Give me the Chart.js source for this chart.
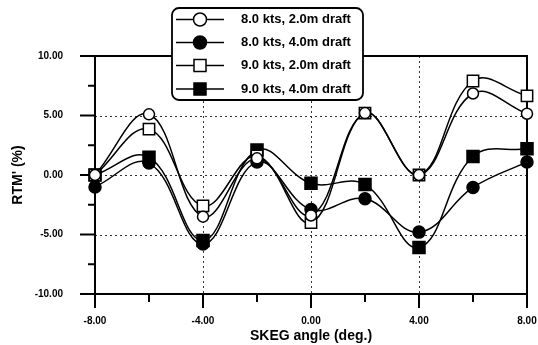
<!DOCTYPE html>
<html>
<head>
<meta charset="utf-8">
<script src="https://cdn.jsdelivr.net/npm/chart.js@4/dist/chart.umd.min.js"></script>
<style>
html,body{margin:0;padding:0;background:#fff;}
#c{display:block;}
</style>
</head>
<body>
<canvas id="c" width="538" height="345"></canvas>
<script>
// ---- data ----
const angles = [-8, -6, -4, -2, 0, 2, 4, 6, 8];
const s8kts2m = [0, 5.1, -3.5, 1.4, -3.4, 5.2, 0, 6.85, 5.15];
const s8kts4m = [-1.0, 1.0, -5.8, 1.1, -2.9, -2.0, -4.8, -1.05, 1.1];
const s9kts2m = [0, 3.85, -2.6, 1.6, -4.0, 5.2, 0, 7.9, 6.65];
const s9kts4m = [0, 1.5, -5.5, 2.1, -0.7, -0.8, -6.1, 1.55, 2.2];
const seriesLabels = ['8.0 kts, 2.0m draft', '8.0 kts, 4.0m draft', '9.0 kts, 2.0m draft', '9.0 kts, 4.0m draft'];
const xTitle = 'SKEG angle (deg.)';
const yTitle = "RTM' (%)";
const xMajorTicks = [-8, -4, 0, 4, 8];
const xMinorTicks = [-6, -2, 2, 6];
const yMajorTicks = [-10, -5, 0, 5, 10];
const yMinorTicks = [-7.5, -2.5, 2.5, 7.5];
const xGrid = [-4, 0, 4];
const yGrid = [-5, 0, 5];

const styles = [
  {pointStyle: 'circle', fill: '#fff', r: 5.5},
  {pointStyle: 'circle', fill: '#000', r: 6},
  {pointStyle: 'rect', fill: '#fff', r: 8},
  {pointStyle: 'rect', fill: '#000', r: 8.5}
];
const allSeries = [s8kts2m, s8kts4m, s9kts2m, s9kts4m];

const datasets = allSeries.map((s, i) => ({
  label: seriesLabels[i],
  data: angles.map((a, j) => ({x: a, y: s[j]})),
  borderColor: '#000',
  borderWidth: 1.5,
  backgroundColor: styles[i].fill,
  pointStyle: styles[i].pointStyle,
  pointRadius: styles[i].r,
  pointBorderWidth: 1.5,
  pointBorderColor: '#000',
  pointBackgroundColor: styles[i].fill,
  tension: 0.4,
  fill: false,
  clip: false
}));

const framePlugin = {
  id: 'frame',
  beforeDatasetsDraw(chart) {
    const ctx = chart.ctx, a = chart.chartArea;
    const xs = chart.scales.x, ys = chart.scales.y;
    ctx.save();
    // dotted grid
    ctx.strokeStyle = '#333';
    ctx.lineWidth = 1;
    ctx.setLineDash([2, 3]);
    xGrid.forEach(v => {
      const px = Math.round(xs.getPixelForValue(v)) + 0.5;
      ctx.beginPath(); ctx.moveTo(px, a.top); ctx.lineTo(px, a.bottom); ctx.stroke();
    });
    yGrid.forEach(v => {
      const py = Math.round(ys.getPixelForValue(v)) + 0.5;
      ctx.beginPath(); ctx.moveTo(a.left, py); ctx.lineTo(a.right, py); ctx.stroke();
    });
    ctx.setLineDash([]);
    // frame
    ctx.strokeStyle = '#000';
    ctx.lineWidth = 2;
    ctx.strokeRect(a.left, a.top, a.right - a.left, a.bottom - a.top);
    // ticks
    ctx.lineWidth = 2;
    yMajorTicks.forEach(v => {
      const py = ys.getPixelForValue(v);
      ctx.beginPath(); ctx.moveTo(a.left - 15, py); ctx.lineTo(a.left, py); ctx.stroke();
    });
    yMinorTicks.forEach(v => {
      const py = ys.getPixelForValue(v);
      ctx.beginPath(); ctx.moveTo(a.left - 7, py); ctx.lineTo(a.left, py); ctx.stroke();
    });
    xMajorTicks.forEach(v => {
      const px = xs.getPixelForValue(v);
      ctx.beginPath(); ctx.moveTo(px, a.bottom); ctx.lineTo(px, a.bottom + 14); ctx.stroke();
    });
    xMinorTicks.forEach(v => {
      const px = xs.getPixelForValue(v);
      ctx.beginPath(); ctx.moveTo(px, a.bottom); ctx.lineTo(px, a.bottom + 8); ctx.stroke();
    });
    ctx.restore();
  },
  afterDraw(chart) {
    const ctx = chart.ctx;
    ctx.save();
    // legend box
    const bx = 172, by = 8, bw = 191, bh = 92, rr = 7;
    ctx.fillStyle = '#fff';
    ctx.strokeStyle = '#000';
    ctx.lineWidth = 1.8;
    ctx.beginPath();
    ctx.roundRect(bx, by, bw, bh, rr);
    ctx.fill();
    ctx.stroke();
    const rowsY = [19.5, 42.5, 65.5, 89];
    chart.data.datasets.forEach((ds, i) => {
      const y = rowsY[i];
      ctx.strokeStyle = '#000';
      ctx.lineWidth = 1.5;
      ctx.beginPath(); ctx.moveTo(176, y); ctx.lineTo(224, y); ctx.stroke();
      ctx.fillStyle = ds.pointBackgroundColor;
      ctx.beginPath();
      if (ds.pointStyle === 'circle') {
        ctx.arc(200, y, 6.5, 0, Math.PI * 2);
      } else {
        ctx.rect(194, y - 6, 12, 12);
      }
      ctx.fill();
      ctx.stroke();
      ctx.fillStyle = '#000';
      ctx.font = 'bold 13px "Liberation Sans", Arial, sans-serif';
      ctx.textBaseline = 'middle';
      ctx.textAlign = 'left';
      ctx.fillText(ds.label, 241, y);
    });
    ctx.restore();
  }
};

new Chart(document.getElementById('c'), {
  type: 'line',
  data: {datasets},
  options: {
    responsive: false,
    animation: false,
    devicePixelRatio: 1,
    layout: {padding: {top: 56, right: 11, left: 0, bottom: 0}},
    plugins: {legend: {display: false}, tooltip: {enabled: false}},
    scales: {
      x: {
        type: 'linear', min: -8, max: 8,
        afterBuildTicks(scale) { scale.ticks = xMajorTicks.map(v => ({value: v})); },
        afterFit(scale) { scale.height = 51; scale.paddingLeft = 0; scale.paddingRight = 0; },
        grid: {display: false, drawTicks: false},
        border: {display: false},
        ticks: {
          color: '#000', padding: 21,
          font: {family: '"Liberation Sans", Arial, sans-serif', size: 10, weight: 'bold'},
          callback: v => Number(v).toFixed(2),
          maxRotation: 0
        },
        title: {
          display: true, text: xTitle, color: '#000',
          font: {family: '"Liberation Sans", Arial, sans-serif', size: 14, weight: 'bold'},
          padding: {top: 0, bottom: 0}
        }
      },
      y: {
        type: 'linear', min: -10, max: 10,
        afterBuildTicks(scale) { scale.ticks = yMajorTicks.map(v => ({value: v})); },
        afterFit(scale) { scale.width = 95; scale.paddingTop = 0; scale.paddingBottom = 0; },
        grid: {display: false, drawTicks: false},
        border: {display: false},
        ticks: {
          color: '#000', padding: 32,
          font: {family: '"Liberation Sans", Arial, sans-serif', size: 10, weight: 'bold'},
          callback: v => Number(v).toFixed(2)
        },
        title: {
          display: true, text: yTitle, color: '#000',
          font: {family: '"Liberation Sans", Arial, sans-serif', size: 14, weight: 'bold'},
          padding: {top: 10, bottom: 0}
        }
      }
    }
  },
  plugins: [framePlugin]
});
</script>
</body>
</html>
